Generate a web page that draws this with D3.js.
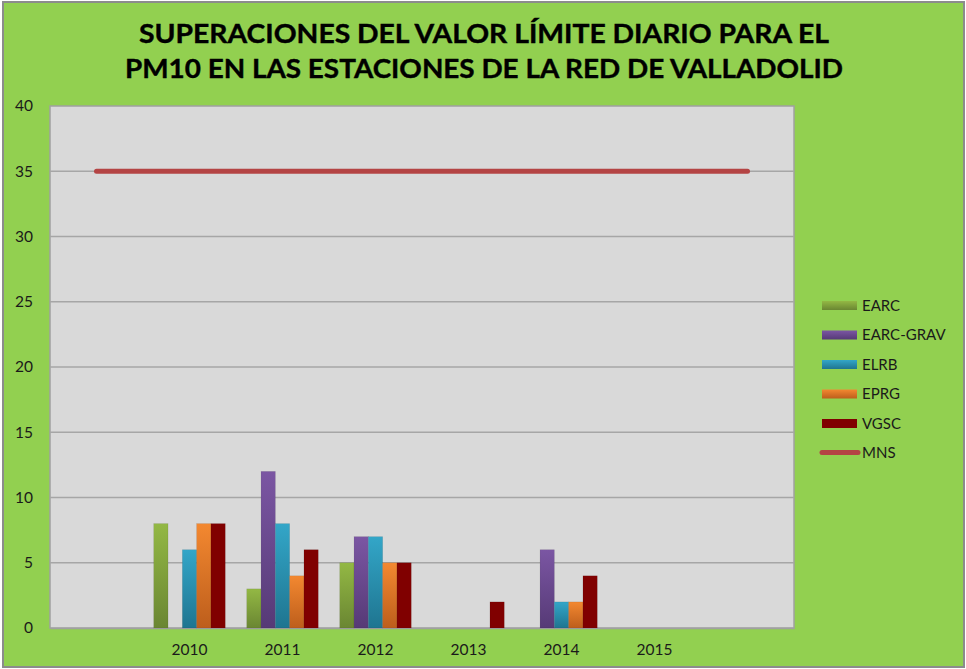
<!DOCTYPE html>
<html>
<head>
<meta charset="utf-8">
<script src="https://cdn.jsdelivr.net/npm/d3@7"></script>
<style>
    body { margin: 0; background: #fff; }
    svg { display: block; font-family: Lato, "Open Sans", sans-serif; }
</style>
</head>
<body>
<svg id="chart" width="966" height="669"></svg>
<script>
// categories (blank slots at both ends, as in the original sheet)
const categories = ["c0", "2010", "2011", "2012", "2013", "2014", "2015", "c7"];
const categoryLabels = ["", "2010", "2011", "2012", "2013", "2014", "2015", ""];

const seriesNames = ["EARC", "EARC-GRAV", "ELRB", "EPRG", "VGSC"];
const earc     = [null, 8, 3, 5, 0, 0, 0, null];
const earcGrav = [null, 0, 12, 7, 0, 6, 0, null];
const elrb     = [null, 6, 8, 7, 0, 2, 0, null];
const eprg     = [null, 8, 4, 5, 0, 2, 0, null];
const vgsc     = [null, 8, 6, 5, 2, 4, 0, null];
const mns      = [35, 35, 35, 35, 35, 35, 35, 35];

const yTicks = [0, 5, 10, 15, 20, 25, 30, 35, 40];

const titleLines = ["SUPERACIONES DEL VALOR LÍMITE DIARIO PARA EL",
                    "PM10 EN LAS ESTACIONES DE LA RED DE VALLADOLID"];

const barColors = [
    ["#93b844", "#6a8632"],
    ["#7b56a3", "#563a76"],
    ["#33a6c8", "#1f7590"],
    ["#f38830", "#bd5e1c"],
    ["#800000", "#800000"]
];

const svg = d3.select("#chart");
const W = 966, H = 669;
const margin = { top: 106, right: 172, bottom: 41, left: 50 };
const plotW = W - margin.left - margin.right;
const plotH = H - margin.top - margin.bottom;

// background + outer frame
svg.append("rect")
    .attr("x", 3).attr("y", 2).attr("width", W - 5).attr("height", H - 4)
    .attr("fill", "#92d050")
    .attr("stroke", "#8c8c8c")
    .attr("stroke-width", 2);

// gradients for the bars
const defs = svg.append("defs");
barColors.forEach((c, i) => {
    const g = defs.append("linearGradient")
        .attr("id", "grad" + i)
        .attr("x1", 0).attr("y1", 0).attr("x2", 0).attr("y2", 1);
    g.append("stop").attr("offset", "0%").attr("stop-color", c[0]);
    g.append("stop").attr("offset", "100%").attr("stop-color", c[1]);
});

// title
svg.append("g").selectAll("text")
    .data(titleLines)
    .enter()
    .append("text")
    .attr("x", 484)
    .attr("y", (d, i) => 43 + i * 35)
    .attr("text-anchor", "middle")
    .attr("font-weight", "bold")
    .attr("font-size", 27)
    .attr("fill", "#000")
    .attr("stroke", "#000")
    .attr("stroke-width", 0.4)
    .attr("textLength", (d, i) => i === 0 ? 690 : 718)
    .attr("lengthAdjust", "spacingAndGlyphs")
    .text(d => d);

const g = svg.append("g").attr("transform", `translate(${margin.left},${margin.top})`);

const x = d3.scaleBand()
    .domain(categories)
    .range([0, plotW]);

const y = d3.scaleLinear()
    .domain([0, 40])
    .range([plotH, 0]);

// plot area
g.append("rect")
    .attr("width", plotW)
    .attr("height", plotH)
    .attr("fill", "#d9d9d9")
    .attr("stroke", "#a0a0a0")
    .attr("stroke-width", 1.5);

// gridlines
g.append("g")
    .selectAll("line")
    .data(yTicks.filter(t => t > 0 && t < 40))
    .enter()
    .append("line")
    .attr("x1", 0).attr("x2", plotW)
    .attr("y1", d => y(d)).attr("y2", d => y(d))
    .attr("stroke", "#a6a6a6")
    .attr("stroke-width", 1.5);

// y axis labels
const yAxis = g.append("g")
    .call(d3.axisLeft(y).tickValues(yTicks).tickSize(0).tickPadding(17));
yAxis.select(".domain").remove();
yAxis.selectAll("text")
    .attr("font-family", "Lato, 'Open Sans', sans-serif")
    .attr("font-size", 15.5)
    .attr("fill", "#1a1a1a");

// x axis labels
const xAxis = g.append("g")
    .attr("transform", `translate(0,${plotH})`)
    .call(d3.axisBottom(x).tickSize(0).tickPadding(16).tickFormat((d, i) => categoryLabels[i]));
xAxis.select(".domain").attr("stroke", "#a0a0a0").attr("stroke-width", 1.5);
xAxis.selectAll("text")
    .attr("font-family", "Lato, 'Open Sans', sans-serif")
    .attr("font-size", 15.5)
    .attr("fill", "#1a1a1a");

// bars
const allSeries = [earc, earcGrav, elrb, eprg, vgsc];
const barW = x.bandwidth() / 6.5;
const inner = d3.scaleBand()
    .domain(seriesNames)
    .range([x.bandwidth() / 2 - barW * 2.5, x.bandwidth() / 2 + barW * 2.5]);

allSeries.forEach((vals, si) => {
    g.append("g")
        .selectAll("rect")
        .data(vals.map((v, i) => ({ cat: categories[i], v: v })).filter(d => d.v))
        .enter()
        .append("rect")
        .attr("x", d => x(d.cat) + inner(seriesNames[si]))
        .attr("y", d => y(d.v))
        .attr("width", inner.bandwidth())
        .attr("height", d => y(0) - y(d.v))
        .attr("fill", `url(#grad${si})`)
        .attr("stroke", "rgba(0,0,0,0.12)")
        .attr("stroke-width", 0.6);
});

// MNS line
const line = d3.line()
    .x((d, i) => x(categories[i]) + x.bandwidth() / 2)
    .y(d => y(d));
g.append("path")
    .datum(mns)
    .attr("d", line)
    .attr("fill", "none")
    .attr("stroke", "#b44444")
    .attr("stroke-width", 5)
    .attr("stroke-linecap", "round");

// legend
const legend = svg.append("g").attr("transform", "translate(822,305)");
const legendItems = seriesNames.concat(["MNS"]);
const rows = legend.selectAll("g")
    .data(legendItems)
    .enter()
    .append("g")
    .attr("transform", (d, i) => `translate(0,${i * 29.5})`);

rows.each(function (d, i) {
    const row = d3.select(this);
    if (i < 5) {
        row.append("rect")
            .attr("x", 0).attr("y", -4)
            .attr("width", 35).attr("height", 9)
            .attr("fill", `url(#grad${i})`);
    } else {
        row.append("line")
            .attr("x1", 0).attr("x2", 36)
            .attr("y1", 0).attr("y2", 0)
            .attr("stroke", "#b44444")
            .attr("stroke-width", 5)
            .attr("stroke-linecap", "round");
    }
    row.append("text")
        .attr("x", 40)
        .attr("y", 5.5)
        .attr("font-size", 15)
        .attr("fill", "#1a1a1a")
        .text(d);
});
</script>
</body>
</html>
